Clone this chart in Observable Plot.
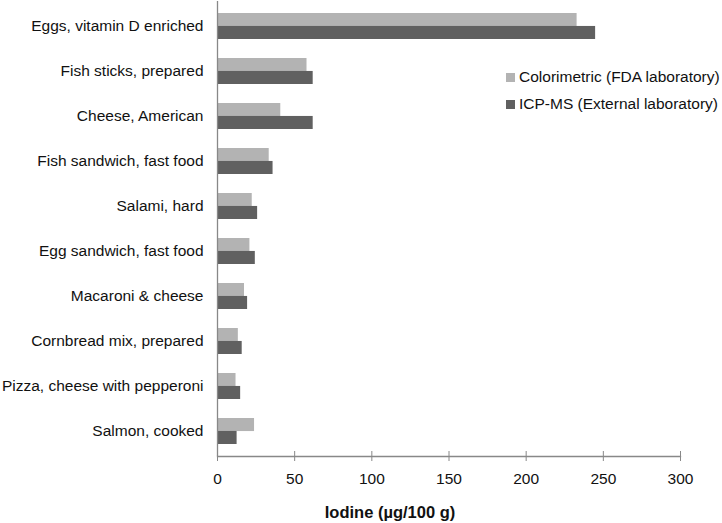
<!DOCTYPE html>
<html>
<head>
<meta charset="utf-8">
<script src="https://cdn.jsdelivr.net/npm/d3@7"></script>
<script src="https://cdn.jsdelivr.net/npm/@observablehq/plot@0.6"></script>
<style>
  body { margin: 0; background: #fff; font-family: "Liberation Sans", Arial, sans-serif; }
  #wrap { position: relative; width: 722px; height: 523px; overflow: hidden; }
  .legend { position: absolute; left: 506px; font-size: 15.5px; color: #111; display: flex; align-items: center; white-space: nowrap; }
  .sw { width: 9px; height: 9px; margin-right: 4px; display: inline-block; }
  #xlabel { position: absolute; top: 503px; left: 240px; width: 300px; text-align: center; font-weight: bold; font-size: 16.5px; color: #111; }
</style>
</head>
<body>
<div id="wrap"></div>
<script>
const categories = [
  "Eggs, vitamin D enriched",
  "Fish sticks, prepared",
  "Cheese, American",
  "Fish sandwich, fast food",
  "Salami, hard",
  "Egg sandwich, fast food",
  "Macaroni & cheese",
  "Cornbread mix, prepared",
  "Pizza, cheese with pepperoni",
  "Salmon, cooked"
];
const colorimetric = [233, 58, 41, 33.5, 22.5, 21, 17.5, 13.5, 12, 24];
const icpms = [245, 62, 62, 36, 26, 24.5, 19.5, 16, 15, 12.7];
const seriesNames = ["Colorimetric (FDA laboratory)", "ICP-MS (External laboratory)"];
const seriesColors = ["#b3b3b3", "#606060"];
const xTicks = [0, 50, 100, 150, 200, 250, 300];

const light = categories.map((c, i) => ({category: c, value: colorimetric[i]}));
const dark = categories.map((c, i) => ({category: c, value: icpms[i]}));

const half = 12.95;
const chart = Plot.plot({
  width: 722,
  height: 523,
  marginLeft: 217,
  marginRight: 42,
  marginTop: 1,
  marginBottom: 67,
  style: {fontFamily: "Liberation Sans, Arial, sans-serif", fontSize: "15.5px", color: "#111", background: "#fff"},
  x: {domain: [0, 300]},
  y: {domain: categories, paddingInner: 0.43, paddingOuter: 0.225},
  marks: [
    Plot.barX(light, {x: "value", y: "category", fill: seriesColors[0], insetBottom: half}),
    Plot.barX(dark, {x: "value", y: "category", fill: seriesColors[1], insetTop: half}),
    Plot.ruleX([0], {stroke: "#888", strokeWidth: 1.3}),
    Plot.frame({anchor: "bottom", stroke: "#888", strokeWidth: 1.3}),
    Plot.axisX({ticks: xTicks, tickSize: 10, dy: -5, text: null, stroke: "#888", label: null}),
    Plot.axisX({ticks: xTicks, tickSize: 0, tickPadding: 16, tickFormat: d => String(d), label: null, fill: "#111"}),
    Plot.axisY({tickSize: 0, tickPadding: 14, label: null, fill: "#111"})
  ]
});
const wrap = document.getElementById("wrap");
wrap.appendChild(chart);

const legTops = [68, 95];
seriesNames.forEach((n, i) => {
  const d = document.createElement("div");
  d.className = "legend";
  d.style.top = legTops[i] + "px";
  d.innerHTML = `<span class="sw" style="background:${seriesColors[i]}"></span><span>${n}</span>`;
  wrap.appendChild(d);
});
const xl = document.createElement("div");
xl.id = "xlabel";
xl.textContent = "Iodine (µg/100 g)";
wrap.appendChild(xl);
</script>
</body>
</html>
